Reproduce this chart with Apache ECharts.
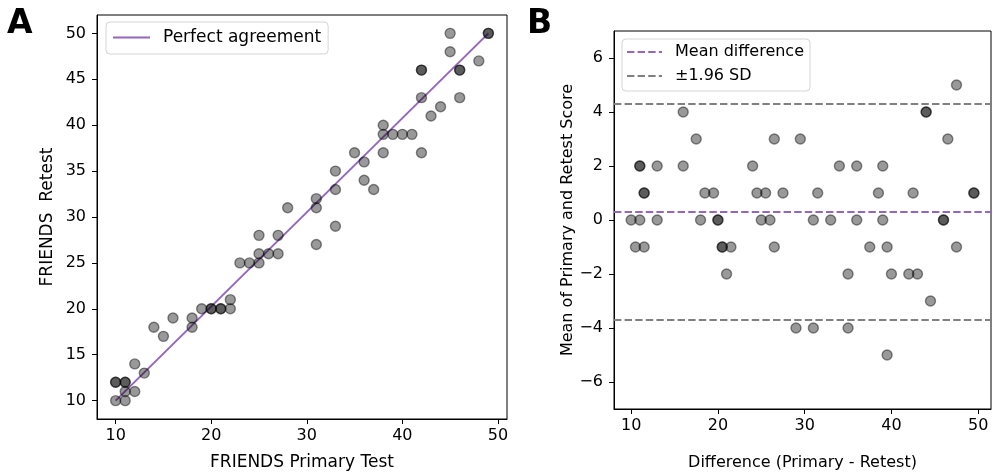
<!DOCTYPE html>
<html>
<head>
<meta charset="utf-8">
<script src="https://cdn.jsdelivr.net/npm/echarts@6/dist/echarts.min.js"></script>
<style>html,body{margin:0;padding:0;background:#fff;}#c{width:993px;height:476px;}</style>
</head>
<body>
<div id="c"></div>
<script>
// Panel A: FRIENDS primary test vs retest (duplicates listed twice)
const primary = [45,14,42,42,16,25,28,45, 10,10,12,15,23,33,35,38, 11,11,18,19,24,25,27,31,38,42,49,49, 10,11,13,18,20,20,25,26,31,33,36,39,46,46, 11,12,21,21,22,27,38,40,48, 22,36,41,43,44, 46, 31,33,37, 42];
const retest  = [50,18,46,46,19,28,31,48, 12,12,14,17,25,35,37,40, 12,12,19,20,25,26,28,32,39,43,50,50, 10,11,13,18,20,20,25,26,31,33,36,39,46,46, 10,11,20,20,21,26,37,39,47, 20,34,39,41,42, 43, 27,29,33, 37];
const agreementLine = [[10,10],[49,50]];

// Panel B: Bland-Altman values
const baX = [47.5,16,44,44,17.5,26.5,29.5,46.5, 11,11,13,16,24,34,36,39, 11.5,11.5,18.5,19.5,24.5,25.5,27.5,31.5,38.5,42.5,49.5,49.5, 10,11,13,18,20,20,25,26,31,33,36,39,46,46, 10.5,11.5,20.5,20.5,21.5,26.5,37.5,39.5,47.5, 21,35,40,42,43, 44.5, 29,31,35, 39.5];
const baY = [5,4,4,4,3,3,3,3, 2,2,2,2,2,2,2,2, 1,1,1,1,1,1,1,1,1,1,1,1, 0,0,0,0,0,0,0,0,0,0,0,0,0,0, -1,-1,-1,-1,-1,-1,-1,-1,-1, -2,-2,-2,-2,-2, -3, -4,-4,-4, -5];
const meanDiff = 0.29;
const limits = [4.29, -3.71];

// Tick labels
const ticksAx = [10,20,30,40,50];
const ticksAy = [10,15,20,25,30,35,40,45,50];
const ticksBx = [10,20,30,40,50];
const ticksBy = [-6,-4,-2,0,2,4,6];

const FONT = 'DejaVu Sans';
const PURPLE = '#9467bd';
const GRAY = '#808080';
const DASH = [7.4,3.2];
const pointStyle = {color:'rgba(0,0,0,0.5)', borderColor:'rgba(0,0,0,0.55)', borderWidth:1.4};

function axis(opts, nameSize){
  return Object.assign({
    type:'value',
    nameLocation:'middle',
    nameTextStyle:{fontFamily:FONT, fontSize:nameSize, color:'#000'},
    axisLine:{show:true, onZero:false, lineStyle:{color:'#000', width:1}},
    splitLine:{show:false}
  }, opts);
}
function ticks(vals){ return {show:true, length:5, customValues:vals, lineStyle:{color:'#000', width:1}}; }
function labels(vals, margin, formatter){
  const o = {fontFamily:FONT, fontSize:16, color:'#000', margin:margin, customValues:vals};
  if (formatter) o.formatter = formatter;
  return o;
}
const fmt = v => v < 0 ? '\u2212' + Math.abs(v) : String(v);
const legendItemStyle = {color:'transparent', borderWidth:0, opacity:0};

const chart = echarts.init(document.getElementById('c'), null, {renderer:'canvas'});
chart.setOption({
  animation:false,
  backgroundColor:'#fff',
  grid:[
    {left:97, top:15, width:410, height:407, show:true, borderColor:'#000', borderWidth:1, backgroundColor:'transparent'},
    {left:614, top:31, width:377, height:378, show:true, borderColor:'#000', borderWidth:1, backgroundColor:'transparent'}
  ],
  xAxis:[
    axis({gridIndex:0, min:8.05, max:50.95, name:'FRIENDS Primary Test', nameGap:35,
      axisTick:ticks(ticksAx), axisLabel:labels(ticksAx, 9)}, 17),
    axis({gridIndex:1, min:8.025, max:51.475, name:'Difference (Primary - Retest)', nameGap:46,
      axisTick:ticks(ticksBx), axisLabel:labels(ticksBx, 9)}, 16)
  ],
  yAxis:[
    axis({gridIndex:0, min:8, max:52, name:'FRIENDS  Retest', nameGap:41,
      axisTick:ticks(ticksAy), axisLabel:labels(ticksAy, 11)}, 17),
    axis({gridIndex:1, min:-7, max:7, name:'Mean of Primary and Retest Score', nameGap:38,
      axisTick:ticks(ticksBy), axisLabel:labels(ticksBy, 11, fmt)}, 16)
  ],
  legend:[
    {data:['Perfect agreement'], left:106, top:22, orient:'vertical',
     padding:[7,7,8,6], itemWidth:37, itemHeight:14, backgroundColor:'#fff',
     borderColor:'#d5d5d5', borderWidth:1, borderRadius:4, itemStyle:legendItemStyle,
     lineStyle:{width:2, color:PURPLE, type:'solid'},
     textStyle:{fontFamily:FONT, fontSize:17, color:'#000', padding:[0,0,0,8]}},
    {data:['Mean difference','\u00b11.96 SD'], left:622, top:39, orient:'vertical',
     padding:[5,6,7,4], itemGap:8, itemWidth:35, itemHeight:14, backgroundColor:'#fff',
     borderColor:'#d5d5d5', borderWidth:1, borderRadius:4, itemStyle:legendItemStyle,
     lineStyle:{width:2, type:DASH},
     textStyle:{fontFamily:FONT, fontSize:16, color:'#000', padding:[0,0,0,8]}}
  ],
  series:[
    {type:'scatter', name:'scoresA', xAxisIndex:0, yAxisIndex:0, symbolSize:10,
     itemStyle:pointStyle, data:primary.map((p,i)=>[p, retest[i]]), z:3},
    {type:'line', name:'Perfect agreement', xAxisIndex:0, yAxisIndex:0, symbol:'none', showSymbol:false,
     color:PURPLE, lineStyle:{color:PURPLE, width:2}, data:agreementLine, z:2},
    {type:'scatter', name:'scoresB', xAxisIndex:1, yAxisIndex:1, symbolSize:10,
     itemStyle:pointStyle, data:baX.map((x,i)=>[x, baY[i]]), z:3},
    {type:'line', name:'Mean difference', xAxisIndex:1, yAxisIndex:1, symbol:'none', showSymbol:false, data:[],
     color:PURPLE, lineStyle:{color:PURPLE, width:2, type:DASH},
     markLine:{silent:true, symbol:['none','none'], label:{show:false},
       lineStyle:{color:PURPLE, width:2, type:DASH}, data:[{yAxis:meanDiff}]}},
    {type:'line', name:'\u00b11.96 SD', xAxisIndex:1, yAxisIndex:1, symbol:'none', showSymbol:false, data:[],
     color:GRAY, lineStyle:{color:GRAY, width:2, type:DASH},
     markLine:{silent:true, symbol:['none','none'], label:{show:false},
       lineStyle:{color:GRAY, width:2, type:DASH}, data:limits.map(v=>({yAxis:v}))}}
  ],
  graphic:[
    {type:'text', left:7, top:8, style:{text:'A', fontFamily:FONT, fontSize:33, fontWeight:'bold', fill:'#000'}},
    {type:'text', left:527, top:8, style:{text:'B', fontFamily:FONT, fontSize:33, fontWeight:'bold', fill:'#000'}}
  ]
});
</script>
</body>
</html>
